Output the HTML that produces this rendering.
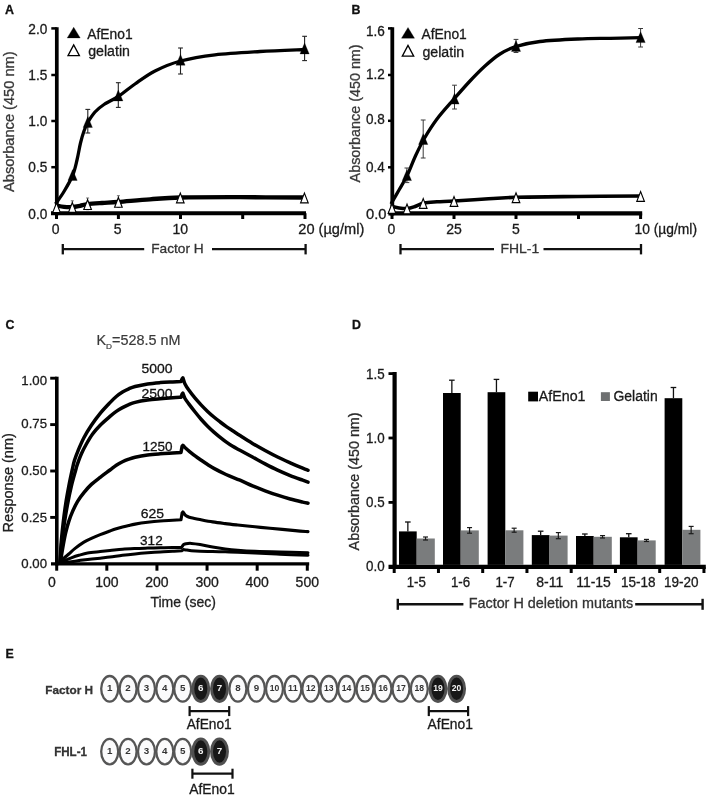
<!DOCTYPE html>
<html lang="en">
<head>
<meta charset="utf-8">
<title>AfEno1 binds Factor H and FHL-1</title>
<style>
html,body{margin:0;padding:0;background:#fff;}
body{width:708px;height:797px;overflow:hidden;}
svg{display:block;font-family:'Liberation Sans', Arial, Helvetica, sans-serif;}
</style>
</head>
<body>
<svg width="708" height="797" viewBox="0 0 708 797">
<rect x="0" y="0" width="708" height="797" fill="#ffffff"/>
<text x="5" y="13.7" font-size="12.4" text-anchor="start" fill="#111" font-weight="bold" stroke="#111" stroke-width="0.3">A</text>
<line x1="56.8" y1="27.2" x2="56.8" y2="215.3" stroke="#000" stroke-width="3.7" stroke-linecap="butt"/>
<line x1="51" y1="213.2" x2="306" y2="213.2" stroke="#000" stroke-width="4.1" stroke-linecap="butt"/>
<line x1="51.3" y1="28.4" x2="56.8" y2="28.4" stroke="#000" stroke-width="2.5" stroke-linecap="butt"/>
<line x1="51.3" y1="75" x2="56.8" y2="75" stroke="#000" stroke-width="2.5" stroke-linecap="butt"/>
<line x1="51.3" y1="121" x2="56.8" y2="121" stroke="#000" stroke-width="2.5" stroke-linecap="butt"/>
<line x1="51.3" y1="167.2" x2="56.8" y2="167.2" stroke="#000" stroke-width="2.5" stroke-linecap="butt"/>
<text x="47.3" y="33.5" font-size="14" text-anchor="end" fill="#1a1a1a" font-weight="normal" stroke="#1a1a1a" stroke-width="0.3" textLength="19" lengthAdjust="spacingAndGlyphs">2.0</text>
<text x="47.3" y="79.8" font-size="14" text-anchor="end" fill="#1a1a1a" font-weight="normal" stroke="#1a1a1a" stroke-width="0.3" textLength="19" lengthAdjust="spacingAndGlyphs">1.5</text>
<text x="47.3" y="125.8" font-size="14" text-anchor="end" fill="#1a1a1a" font-weight="normal" stroke="#1a1a1a" stroke-width="0.3" textLength="19" lengthAdjust="spacingAndGlyphs">1.0</text>
<text x="47.3" y="172" font-size="14" text-anchor="end" fill="#1a1a1a" font-weight="normal" stroke="#1a1a1a" stroke-width="0.3" textLength="19" lengthAdjust="spacingAndGlyphs">0.5</text>
<text x="47.3" y="218.6" font-size="14" text-anchor="end" fill="#1a1a1a" font-weight="normal" stroke="#1a1a1a" stroke-width="0.3" textLength="19" lengthAdjust="spacingAndGlyphs">0.0</text>
<line x1="56.5" y1="213.2" x2="56.5" y2="219" stroke="#000" stroke-width="3" stroke-linecap="butt"/>
<line x1="118.4" y1="213.2" x2="118.4" y2="219" stroke="#000" stroke-width="3" stroke-linecap="butt"/>
<line x1="180.5" y1="213.2" x2="180.5" y2="219" stroke="#000" stroke-width="3" stroke-linecap="butt"/>
<line x1="242.7" y1="213.2" x2="242.7" y2="219" stroke="#000" stroke-width="3" stroke-linecap="butt"/>
<line x1="305" y1="213.2" x2="305" y2="219" stroke="#000" stroke-width="3" stroke-linecap="butt"/>
<text x="55.6" y="233.8" font-size="14" text-anchor="middle" fill="#1a1a1a" font-weight="normal" stroke="#1a1a1a" stroke-width="0.3">0</text>
<text x="117.6" y="233.8" font-size="14" text-anchor="middle" fill="#1a1a1a" font-weight="normal" stroke="#1a1a1a" stroke-width="0.3">5</text>
<text x="180.3" y="233.8" font-size="14" text-anchor="middle" fill="#1a1a1a" font-weight="normal" stroke="#1a1a1a" stroke-width="0.3">10</text>
<text x="298.3" y="233.8" font-size="14" text-anchor="start" fill="#1a1a1a" font-weight="normal" stroke="#1a1a1a" stroke-width="0.3" textLength="66" lengthAdjust="spacingAndGlyphs">20 (µg/ml)</text>
<text x="0" y="0" font-size="14.3" text-anchor="middle" fill="#383838" font-weight="normal" stroke="#383838" stroke-width="0.3" textLength="140.6" lengthAdjust="spacingAndGlyphs" transform="translate(14.3 121.7) rotate(-90)">Absorbance (450 nm)</text>
<polygon points="73.7,27.2 67.2,37.9 80.2,37.9" fill="#000" stroke="#000" stroke-width="0.3" stroke-linejoin="miter"/>
<text x="87.3" y="38.5" font-size="14" text-anchor="start" fill="#1a1a1a" font-weight="normal" stroke="#1a1a1a" stroke-width="0.3" textLength="45.3" lengthAdjust="spacingAndGlyphs">AfEno1</text>
<polygon points="73.7,44.9 68,55.6 79.4,55.6" fill="#fff" stroke="#000" stroke-width="1.3" stroke-linejoin="miter"/>
<text x="88.2" y="56" font-size="14" text-anchor="start" fill="#1a1a1a" font-weight="normal" stroke="#1a1a1a" stroke-width="0.3" textLength="41.8" lengthAdjust="spacingAndGlyphs">gelatin</text>
<path d="M56.5 205.5 C57.75 205.72 61.37 206.55 64 206.8 C66.63 207.05 69.63 207.17 72.3 207 C74.97 206.83 77.45 206.27 80 205.8 C82.55 205.33 83.93 204.67 87.6 204.2 C91.27 203.73 96.87 203.37 102 203 C107.13 202.63 110.4 202.62 118.4 202 C126.4 201.38 139.65 200.05 150 199.3 C160.35 198.55 165.5 197.85 180.5 197.5 C195.5 197.15 219.25 197.2 240 197.2 C260.75 197.2 294.17 197.45 305 197.5" fill="none" stroke="#000" stroke-width="4.3" stroke-linejoin="round"/>
<path d="M55.5 204 C56.92 201.92 61.15 196.25 64 191.5 C66.85 186.75 70.43 180.75 72.6 175.5 C74.77 170.25 75.68 165.42 77 160 C78.32 154.58 79.33 147.83 80.5 143 C81.67 138.17 82.78 134.42 84 131 C85.22 127.58 85.97 125.67 87.8 122.5 C89.63 119.33 92.3 115 95 112 C97.7 109 100.12 107.08 104 104.5 C107.88 101.92 113.13 99.92 118.3 96.5 C123.47 93.08 128.88 88.25 135 84 C141.12 79.75 147.42 74.83 155 71 C162.58 67.17 170.5 63.7 180.5 61 C190.5 58.3 201.75 56.38 215 54.8 C228.25 53.22 245 52.38 260 51.5 C275 50.62 297.5 49.83 305 49.5" fill="none" stroke="#000" stroke-width="3.3" stroke-linejoin="round"/>
<polygon points="72.6,169.6 68,180.4 77.2,180.4" fill="#000" stroke="#000" stroke-width="0.3" stroke-linejoin="miter"/>
<line x1="87.8" y1="109.4" x2="87.8" y2="133" stroke="#222" stroke-width="1.1" stroke-linecap="butt"/>
<line x1="85.4" y1="109.4" x2="90.2" y2="109.4" stroke="#222" stroke-width="1.1" stroke-linecap="butt"/>
<line x1="85.4" y1="133" x2="90.2" y2="133" stroke="#222" stroke-width="1.1" stroke-linecap="butt"/>
<polygon points="87.8,116.6 83.2,127.4 92.4,127.4" fill="#000" stroke="#000" stroke-width="0.3" stroke-linejoin="miter"/>
<line x1="118.3" y1="82.7" x2="118.3" y2="107.4" stroke="#222" stroke-width="1.1" stroke-linecap="butt"/>
<line x1="115.9" y1="82.7" x2="120.7" y2="82.7" stroke="#222" stroke-width="1.1" stroke-linecap="butt"/>
<line x1="115.9" y1="107.4" x2="120.7" y2="107.4" stroke="#222" stroke-width="1.1" stroke-linecap="butt"/>
<polygon points="118.3,90.1 113.7,100.9 122.9,100.9" fill="#000" stroke="#000" stroke-width="0.3" stroke-linejoin="miter"/>
<line x1="180.5" y1="48" x2="180.5" y2="74" stroke="#222" stroke-width="1.1" stroke-linecap="butt"/>
<line x1="178.1" y1="48" x2="182.9" y2="48" stroke="#222" stroke-width="1.1" stroke-linecap="butt"/>
<line x1="178.1" y1="74" x2="182.9" y2="74" stroke="#222" stroke-width="1.1" stroke-linecap="butt"/>
<polygon points="180.5,54.4 175.9,65.2 185.1,65.2" fill="#000" stroke="#000" stroke-width="0.3" stroke-linejoin="miter"/>
<line x1="304.6" y1="36.3" x2="304.6" y2="60.6" stroke="#222" stroke-width="1.1" stroke-linecap="butt"/>
<line x1="302.2" y1="36.3" x2="307" y2="36.3" stroke="#222" stroke-width="1.1" stroke-linecap="butt"/>
<line x1="302.2" y1="60.6" x2="307" y2="60.6" stroke="#222" stroke-width="1.1" stroke-linecap="butt"/>
<polygon points="304.6,43.1 300,53.9 309.2,53.9" fill="#000" stroke="#000" stroke-width="0.3" stroke-linejoin="miter"/>
<polygon points="56.5,202.9 52.7,212.6 60.3,212.6" fill="#fff" stroke="#000" stroke-width="1.15" stroke-linejoin="miter"/>
<line x1="72.3" y1="200.8" x2="72.3" y2="212.5" stroke="#333" stroke-width="0.7" stroke-linecap="butt"/>
<line x1="70.8" y1="200.8" x2="73.8" y2="200.8" stroke="#333" stroke-width="0.7" stroke-linecap="butt"/>
<line x1="70.8" y1="212.5" x2="73.8" y2="212.5" stroke="#333" stroke-width="0.7" stroke-linecap="butt"/>
<polygon points="72.3,202.6 68.5,212.3 76.1,212.3" fill="#fff" stroke="#000" stroke-width="1.15" stroke-linejoin="miter"/>
<line x1="87.6" y1="198" x2="87.6" y2="209.7" stroke="#333" stroke-width="0.7" stroke-linecap="butt"/>
<line x1="86.1" y1="198" x2="89.1" y2="198" stroke="#333" stroke-width="0.7" stroke-linecap="butt"/>
<line x1="86.1" y1="209.7" x2="89.1" y2="209.7" stroke="#333" stroke-width="0.7" stroke-linecap="butt"/>
<polygon points="87.6,199.8 83.8,209.5 91.4,209.5" fill="#fff" stroke="#000" stroke-width="1.15" stroke-linejoin="miter"/>
<line x1="118.4" y1="195.7" x2="118.4" y2="207.4" stroke="#333" stroke-width="0.7" stroke-linecap="butt"/>
<line x1="116.9" y1="195.7" x2="119.9" y2="195.7" stroke="#333" stroke-width="0.7" stroke-linecap="butt"/>
<line x1="116.9" y1="207.4" x2="119.9" y2="207.4" stroke="#333" stroke-width="0.7" stroke-linecap="butt"/>
<polygon points="118.4,197.5 114.6,207.2 122.2,207.2" fill="#fff" stroke="#000" stroke-width="1.15" stroke-linejoin="miter"/>
<polygon points="180.3,193.1 176.5,202.8 184.1,202.8" fill="#fff" stroke="#000" stroke-width="1.15" stroke-linejoin="miter"/>
<polygon points="304.4,193.1 300.6,202.8 308.2,202.8" fill="#fff" stroke="#000" stroke-width="1.15" stroke-linejoin="miter"/>
<line x1="62.8" y1="244" x2="62.8" y2="254.4" stroke="#111" stroke-width="2.3" stroke-linecap="butt"/>
<line x1="305.6" y1="244" x2="305.6" y2="254.4" stroke="#111" stroke-width="2.3" stroke-linecap="butt"/>
<line x1="62.8" y1="249.2" x2="144.2" y2="249.2" stroke="#111" stroke-width="2.3" stroke-linecap="butt"/>
<line x1="212" y1="249.2" x2="305.6" y2="249.2" stroke="#111" stroke-width="2.3" stroke-linecap="butt"/>
<text x="151.2" y="253.2" font-size="13.5" text-anchor="start" fill="#333" font-weight="normal" stroke="#333" stroke-width="0.3" textLength="52.5" lengthAdjust="spacingAndGlyphs">Factor H</text>
<text x="351.5" y="13.7" font-size="12.4" text-anchor="start" fill="#111" font-weight="bold" stroke="#111" stroke-width="0.3">B</text>
<line x1="392.3" y1="27.2" x2="392.3" y2="215.5" stroke="#000" stroke-width="3.8" stroke-linecap="butt"/>
<line x1="388.4" y1="213.4" x2="642.2" y2="213.4" stroke="#000" stroke-width="4.1" stroke-linecap="butt"/>
<line x1="388" y1="28.4" x2="392.3" y2="28.4" stroke="#000" stroke-width="2.5" stroke-linecap="butt"/>
<line x1="388" y1="75" x2="392.3" y2="75" stroke="#000" stroke-width="2.5" stroke-linecap="butt"/>
<line x1="388" y1="120.8" x2="392.3" y2="120.8" stroke="#000" stroke-width="2.5" stroke-linecap="butt"/>
<line x1="388" y1="167.3" x2="392.3" y2="167.3" stroke="#000" stroke-width="2.5" stroke-linecap="butt"/>
<text x="384.8" y="35.5" font-size="14" text-anchor="end" fill="#1a1a1a" font-weight="normal" stroke="#1a1a1a" stroke-width="0.3" textLength="18.8" lengthAdjust="spacingAndGlyphs">1.6</text>
<text x="384.8" y="78.6" font-size="14" text-anchor="end" fill="#1a1a1a" font-weight="normal" stroke="#1a1a1a" stroke-width="0.3" textLength="18.8" lengthAdjust="spacingAndGlyphs">1.2</text>
<text x="384.8" y="123.7" font-size="14" text-anchor="end" fill="#1a1a1a" font-weight="normal" stroke="#1a1a1a" stroke-width="0.3" textLength="18.8" lengthAdjust="spacingAndGlyphs">0.8</text>
<text x="384.8" y="171.5" font-size="14" text-anchor="end" fill="#1a1a1a" font-weight="normal" stroke="#1a1a1a" stroke-width="0.3" textLength="18.8" lengthAdjust="spacingAndGlyphs">0.4</text>
<text x="386.5" y="218.8" font-size="14" text-anchor="end" fill="#1a1a1a" font-weight="normal" stroke="#1a1a1a" stroke-width="0.3" textLength="20.5" lengthAdjust="spacingAndGlyphs">0.0</text>
<line x1="392" y1="213.4" x2="392" y2="219" stroke="#000" stroke-width="3" stroke-linecap="butt"/>
<line x1="454" y1="213.4" x2="454" y2="219" stroke="#000" stroke-width="3" stroke-linecap="butt"/>
<line x1="516" y1="213.4" x2="516" y2="219" stroke="#000" stroke-width="3" stroke-linecap="butt"/>
<line x1="578.5" y1="213.4" x2="578.5" y2="219" stroke="#000" stroke-width="3" stroke-linecap="butt"/>
<line x1="640.6" y1="213.4" x2="640.6" y2="219" stroke="#000" stroke-width="3" stroke-linecap="butt"/>
<text x="391.5" y="233.8" font-size="14" text-anchor="middle" fill="#1a1a1a" font-weight="normal" stroke="#1a1a1a" stroke-width="0.3">0</text>
<text x="454" y="233.8" font-size="14" text-anchor="middle" fill="#1a1a1a" font-weight="normal" stroke="#1a1a1a" stroke-width="0.3">25</text>
<text x="515.8" y="233.8" font-size="14" text-anchor="middle" fill="#1a1a1a" font-weight="normal" stroke="#1a1a1a" stroke-width="0.3">5</text>
<text x="634.5" y="233.8" font-size="14" text-anchor="start" fill="#1a1a1a" font-weight="normal" stroke="#1a1a1a" stroke-width="0.3" textLength="62.5" lengthAdjust="spacingAndGlyphs">10 (µg/ml)</text>
<text x="0" y="0" font-size="14.3" text-anchor="middle" fill="#383838" font-weight="normal" stroke="#383838" stroke-width="0.3" textLength="138" lengthAdjust="spacingAndGlyphs" transform="translate(360.2 113.4) rotate(-90)">Absorbance (450 nm)</text>
<polygon points="408,27.5 401.5,38.2 414.5,38.2" fill="#000" stroke="#000" stroke-width="0.3" stroke-linejoin="miter"/>
<text x="421.5" y="39.4" font-size="14" text-anchor="start" fill="#1a1a1a" font-weight="normal" stroke="#1a1a1a" stroke-width="0.3" textLength="45.3" lengthAdjust="spacingAndGlyphs">AfEno1</text>
<polygon points="408,45.4 402.3,56.1 413.7,56.1" fill="#fff" stroke="#000" stroke-width="1.3" stroke-linejoin="miter"/>
<text x="422.4" y="56.8" font-size="14" text-anchor="start" fill="#1a1a1a" font-weight="normal" stroke="#1a1a1a" stroke-width="0.3" textLength="41.8" lengthAdjust="spacingAndGlyphs">gelatin</text>
<path d="M392 206.5 C393.17 206.75 396.43 207.67 399 208 C401.57 208.33 404.73 208.75 407.4 208.5 C410.07 208.25 412.23 207.42 415 206.5 C417.77 205.58 420.33 203.78 424 203 C427.67 202.22 432 202.13 437 201.8 C442 201.47 446 201.47 454 201 C462 200.53 474.67 199.62 485 199 C495.33 198.38 500.5 197.72 516 197.3 C531.5 196.88 557.23 196.72 578 196.5 C598.77 196.28 630.17 196.08 640.6 196" fill="none" stroke="#000" stroke-width="3.6" stroke-linejoin="round"/>
<path d="M391 204 C392.33 201.67 396.27 194.83 399 190 C401.73 185.17 404.73 180.5 407.4 175 C410.07 169.5 412.23 163 415 157 C417.77 151 420.33 145.33 424 139 C427.67 132.67 432 125.67 437 119 C442 112.33 448.5 105.33 454 99 C459.5 92.67 464.83 86.5 470 81 C475.17 75.5 480 70.5 485 66 C490 61.5 494.83 57.25 500 54 C505.17 50.75 509.33 48.58 516 46.5 C522.67 44.42 529.67 42.75 540 41.5 C550.33 40.25 566.33 39.53 578 39 C589.67 38.47 599.57 38.52 610 38.3 C620.43 38.08 635.5 37.8 640.6 37.7" fill="none" stroke="#000" stroke-width="3.3" stroke-linejoin="round"/>
<line x1="406.9" y1="168" x2="406.9" y2="182.6" stroke="#3a3a3a" stroke-width="1" stroke-linecap="butt"/>
<line x1="404.5" y1="168" x2="409.3" y2="168" stroke="#3a3a3a" stroke-width="1" stroke-linecap="butt"/>
<line x1="404.5" y1="182.6" x2="409.3" y2="182.6" stroke="#3a3a3a" stroke-width="1" stroke-linecap="butt"/>
<polygon points="406.9,169.8 402.3,180.6 411.5,180.6" fill="#000" stroke="#000" stroke-width="0.3" stroke-linejoin="miter"/>
<line x1="423.2" y1="120" x2="423.2" y2="158" stroke="#3a3a3a" stroke-width="1" stroke-linecap="butt"/>
<line x1="420.8" y1="120" x2="425.6" y2="120" stroke="#3a3a3a" stroke-width="1" stroke-linecap="butt"/>
<line x1="420.8" y1="158" x2="425.6" y2="158" stroke="#3a3a3a" stroke-width="1" stroke-linecap="butt"/>
<polygon points="423.2,133.7 418.6,144.5 427.8,144.5" fill="#000" stroke="#000" stroke-width="0.3" stroke-linejoin="miter"/>
<line x1="454.5" y1="85.2" x2="454.5" y2="109" stroke="#3a3a3a" stroke-width="1" stroke-linecap="butt"/>
<line x1="452.1" y1="85.2" x2="456.9" y2="85.2" stroke="#3a3a3a" stroke-width="1" stroke-linecap="butt"/>
<line x1="452.1" y1="109" x2="456.9" y2="109" stroke="#3a3a3a" stroke-width="1" stroke-linecap="butt"/>
<polygon points="454.5,93.3 449.9,104.1 459.1,104.1" fill="#000" stroke="#000" stroke-width="0.3" stroke-linejoin="miter"/>
<line x1="516" y1="39.4" x2="516" y2="52.5" stroke="#3a3a3a" stroke-width="1" stroke-linecap="butt"/>
<line x1="513.6" y1="39.4" x2="518.4" y2="39.4" stroke="#3a3a3a" stroke-width="1" stroke-linecap="butt"/>
<line x1="513.6" y1="52.5" x2="518.4" y2="52.5" stroke="#3a3a3a" stroke-width="1" stroke-linecap="butt"/>
<polygon points="516,40.6 511.4,51.4 520.6,51.4" fill="#000" stroke="#000" stroke-width="0.3" stroke-linejoin="miter"/>
<line x1="640.6" y1="28.5" x2="640.6" y2="47" stroke="#3a3a3a" stroke-width="1" stroke-linecap="butt"/>
<line x1="638.2" y1="28.5" x2="643" y2="28.5" stroke="#3a3a3a" stroke-width="1" stroke-linecap="butt"/>
<line x1="638.2" y1="47" x2="643" y2="47" stroke="#3a3a3a" stroke-width="1" stroke-linecap="butt"/>
<polygon points="640.6,31.8 636,42.6 645.2,42.6" fill="#000" stroke="#000" stroke-width="0.3" stroke-linejoin="miter"/>
<polygon points="392,203.6 388.2,213.3 395.8,213.3" fill="#fff" stroke="#000" stroke-width="1.15" stroke-linejoin="miter"/>
<polygon points="407,204.1 403.2,213.8 410.8,213.8" fill="#fff" stroke="#000" stroke-width="1.15" stroke-linejoin="miter"/>
<polygon points="423.2,198.6 419.4,208.3 427,208.3" fill="#fff" stroke="#000" stroke-width="1.15" stroke-linejoin="miter"/>
<polygon points="454,196.6 450.2,206.3 457.8,206.3" fill="#fff" stroke="#000" stroke-width="1.15" stroke-linejoin="miter"/>
<polygon points="516,192.9 512.2,202.6 519.8,202.6" fill="#fff" stroke="#000" stroke-width="1.15" stroke-linejoin="miter"/>
<polygon points="640.6,191.6 636.8,201.3 644.4,201.3" fill="#fff" stroke="#000" stroke-width="1.15" stroke-linejoin="miter"/>
<line x1="400.5" y1="244" x2="400.5" y2="254.4" stroke="#111" stroke-width="2.3" stroke-linecap="butt"/>
<line x1="641" y1="244" x2="641" y2="254.4" stroke="#111" stroke-width="2.3" stroke-linecap="butt"/>
<line x1="400.5" y1="249.2" x2="494" y2="249.2" stroke="#111" stroke-width="2.3" stroke-linecap="butt"/>
<line x1="543.5" y1="249.2" x2="641" y2="249.2" stroke="#111" stroke-width="2.3" stroke-linecap="butt"/>
<text x="500.6" y="253.2" font-size="13.5" text-anchor="start" fill="#333" font-weight="normal" stroke="#333" stroke-width="0.3" textLength="38.6" lengthAdjust="spacingAndGlyphs">FHL-1</text>
<text x="5.5" y="329.3" font-size="12.4" text-anchor="start" fill="#111" font-weight="bold" stroke="#111" stroke-width="0.3">C</text>
<line x1="56.8" y1="376.7" x2="56.8" y2="565.4" stroke="#000" stroke-width="3.6" stroke-linecap="butt"/>
<line x1="51" y1="563.8" x2="309.2" y2="563.8" stroke="#000" stroke-width="3.3" stroke-linecap="butt"/>
<line x1="50.2" y1="378.2" x2="56.8" y2="378.2" stroke="#000" stroke-width="2.9" stroke-linecap="butt"/>
<line x1="50.2" y1="424.6" x2="56.8" y2="424.6" stroke="#000" stroke-width="2.9" stroke-linecap="butt"/>
<line x1="50.2" y1="471" x2="56.8" y2="471" stroke="#000" stroke-width="2.9" stroke-linecap="butt"/>
<line x1="50.2" y1="517.4" x2="56.8" y2="517.4" stroke="#000" stroke-width="2.9" stroke-linecap="butt"/>
<text x="47" y="385" font-size="13.6" text-anchor="end" fill="#1a1a1a" font-weight="normal" stroke="#1a1a1a" stroke-width="0.3" textLength="25.7" lengthAdjust="spacingAndGlyphs">1.00</text>
<text x="47" y="427.8" font-size="13.6" text-anchor="end" fill="#1a1a1a" font-weight="normal" stroke="#1a1a1a" stroke-width="0.3" textLength="25.7" lengthAdjust="spacingAndGlyphs">0.75</text>
<text x="47" y="474.6" font-size="13.6" text-anchor="end" fill="#1a1a1a" font-weight="normal" stroke="#1a1a1a" stroke-width="0.3" textLength="25.7" lengthAdjust="spacingAndGlyphs">0.50</text>
<text x="47" y="522" font-size="13.6" text-anchor="end" fill="#1a1a1a" font-weight="normal" stroke="#1a1a1a" stroke-width="0.3" textLength="25.7" lengthAdjust="spacingAndGlyphs">0.25</text>
<text x="47" y="567.5" font-size="13.6" text-anchor="end" fill="#1a1a1a" font-weight="normal" stroke="#1a1a1a" stroke-width="0.3" textLength="25.7" lengthAdjust="spacingAndGlyphs">0.00</text>
<line x1="56.7" y1="563.8" x2="56.7" y2="570.7" stroke="#000" stroke-width="3" stroke-linecap="butt"/>
<line x1="106.82" y1="563.8" x2="106.82" y2="570.7" stroke="#000" stroke-width="3" stroke-linecap="butt"/>
<line x1="156.94" y1="563.8" x2="156.94" y2="570.7" stroke="#000" stroke-width="3" stroke-linecap="butt"/>
<line x1="207.06" y1="563.8" x2="207.06" y2="570.7" stroke="#000" stroke-width="3" stroke-linecap="butt"/>
<line x1="257.18" y1="563.8" x2="257.18" y2="570.7" stroke="#000" stroke-width="3" stroke-linecap="butt"/>
<line x1="307.3" y1="563.8" x2="307.3" y2="570.7" stroke="#000" stroke-width="3" stroke-linecap="butt"/>
<text x="51.9" y="586.5" font-size="14" text-anchor="middle" fill="#1a1a1a" font-weight="normal" stroke="#1a1a1a" stroke-width="0.3">0</text>
<text x="106.82" y="586.5" font-size="14" text-anchor="middle" fill="#1a1a1a" font-weight="normal" stroke="#1a1a1a" stroke-width="0.3">100</text>
<text x="156.94" y="586.5" font-size="14" text-anchor="middle" fill="#1a1a1a" font-weight="normal" stroke="#1a1a1a" stroke-width="0.3">200</text>
<text x="207.06" y="586.5" font-size="14" text-anchor="middle" fill="#1a1a1a" font-weight="normal" stroke="#1a1a1a" stroke-width="0.3">300</text>
<text x="257.18" y="586.5" font-size="14" text-anchor="middle" fill="#1a1a1a" font-weight="normal" stroke="#1a1a1a" stroke-width="0.3">400</text>
<text x="307.3" y="586.5" font-size="14" text-anchor="middle" fill="#1a1a1a" font-weight="normal" stroke="#1a1a1a" stroke-width="0.3">500</text>
<text x="150.4" y="607.4" font-size="14.3" text-anchor="start" fill="#222" font-weight="normal" stroke="#222" stroke-width="0.3" textLength="65.6" lengthAdjust="spacingAndGlyphs">Time (sec)</text>
<text x="0" y="0" font-size="14.3" text-anchor="middle" fill="#222" font-weight="normal" stroke="#222" stroke-width="0.3" textLength="99.3" lengthAdjust="spacingAndGlyphs" transform="translate(13.3 482.8) rotate(-90)">Response (nm)</text>
<text x="96.5" y="344.8" font-size="14" fill="#3a3a3a" stroke="#3a3a3a" stroke-width="0.2" textLength="84" lengthAdjust="spacingAndGlyphs">K<tspan font-size="8" dy="4.6">D</tspan><tspan dy="-4.6">=528.5 nM</tspan></text>
<text x="141.5" y="373" font-size="13.5" text-anchor="start" fill="#111" font-weight="normal" stroke="#111" stroke-width="0.3" textLength="31" lengthAdjust="spacingAndGlyphs">5000</text>
<text x="141.4" y="398.4" font-size="13.5" text-anchor="start" fill="#111" font-weight="normal" stroke="#111" stroke-width="0.3" textLength="31.2" lengthAdjust="spacingAndGlyphs">2500</text>
<text x="142.6" y="451" font-size="13.5" text-anchor="start" fill="#111" font-weight="normal" stroke="#111" stroke-width="0.3" textLength="30" lengthAdjust="spacingAndGlyphs">1250</text>
<text x="140.75" y="518" font-size="13.5" text-anchor="start" fill="#111" font-weight="normal" stroke="#111" stroke-width="0.3" textLength="23.3" lengthAdjust="spacingAndGlyphs">625</text>
<text x="140.1" y="544.7" font-size="13.5" text-anchor="start" fill="#111" font-weight="normal" stroke="#111" stroke-width="0.3" textLength="22.6" lengthAdjust="spacingAndGlyphs">312</text>
<path d="M60 562 C60.1 560.33 60.37 555.63 60.6 552 C60.83 548.37 60.97 545.08 61.4 540.2 C61.83 535.32 62.48 528.75 63.2 522.7 C63.92 516.65 64.77 509.97 65.7 503.9 C66.63 497.83 67.72 491.95 68.8 486.3 C69.88 480.65 71.25 474.33 72.2 470 C73.15 465.67 73.5 463.58 74.5 460.3 C75.5 457.02 76.63 454.07 78.2 450.3 C79.77 446.53 81.7 441.88 83.9 437.7 C86.1 433.52 88.68 429.27 91.4 425.2 C94.12 421.13 97.1 417.07 100.2 413.3 C103.3 409.53 107.32 405.4 110 402.6 C112.68 399.8 114.22 398.27 116.3 396.5 C118.38 394.73 120.42 393.28 122.5 392 C124.58 390.72 126.7 389.72 128.8 388.8 C130.9 387.88 131.97 387.32 135.1 386.5 C138.23 385.68 143.42 384.55 147.6 383.9 C151.78 383.25 156.02 382.93 160.2 382.6 C164.38 382.27 169.23 382.08 172.7 381.9 C176.17 381.72 179.62 381.57 181 381.5 L182.1 378.8 L182.9 377.8 C183.33 378.83 184.03 381.95 185 384 C185.97 386.05 187.12 387.73 188.8 390.1 C190.48 392.47 193.02 395.7 195.1 398.2 C197.18 400.7 199.22 402.9 201.3 405.1 C203.38 407.3 205.5 409.42 207.6 411.4 C209.7 413.38 211.8 415.23 213.9 417 C216 418.77 218.12 420.4 220.2 422 C222.28 423.6 224.32 425.13 226.4 426.6 C228.48 428.07 230.43 429.3 232.7 430.8 C234.97 432.3 236.7 433.5 240 435.6 C243.3 437.7 248.32 440.92 252.5 443.4 C256.68 445.88 260.92 448.23 265.1 450.5 C269.28 452.77 273.42 454.95 277.6 457 C281.78 459.05 286.02 460.93 290.2 462.8 C294.38 464.67 299.73 466.95 302.7 468.2 C305.67 469.45 307.12 469.95 308 470.3" fill="none" stroke="#000" stroke-width="3.5" stroke-linejoin="round" stroke-linecap="round"/>
<path d="M60.2 562 C60.33 560.33 60.7 555.63 61 552 C61.3 548.37 61.43 545.08 62 540.2 C62.57 535.32 63.47 528.75 64.4 522.7 C65.33 516.65 66.45 509.97 67.6 503.9 C68.75 497.83 69.95 491.95 71.3 486.3 C72.65 480.65 74.75 473.5 75.7 470 C76.65 466.5 76.07 467.97 77 465.3 C77.93 462.63 79.73 457.55 81.3 454 C82.87 450.45 84.52 447.33 86.4 444 C88.28 440.67 90.3 437.13 92.6 434 C94.9 430.87 97.3 428.13 100.2 425.2 C103.1 422.27 107.32 418.7 110 416.4 C112.68 414.1 114.22 412.87 116.3 411.4 C118.38 409.93 120.42 408.73 122.5 407.6 C124.58 406.47 126.7 405.47 128.8 404.6 C130.9 403.73 131.97 403.15 135.1 402.4 C138.23 401.65 143.42 400.7 147.6 400.1 C151.78 399.5 156.02 399.18 160.2 398.8 C164.38 398.42 169.23 398.05 172.7 397.8 C176.17 397.55 179.62 397.38 181 397.3 L182.1 394.2 L182.9 393.2 C183.33 394.08 184.03 396.72 185 398.5 C185.97 400.28 187.12 401.65 188.8 403.9 C190.48 406.15 193.02 409.4 195.1 412 C197.18 414.6 199.22 417.13 201.3 419.5 C203.38 421.87 205.5 424.1 207.6 426.2 C209.7 428.3 211.8 430.25 213.9 432.1 C216 433.95 218.12 435.63 220.2 437.3 C222.28 438.97 224.32 440.6 226.4 442.1 C228.48 443.6 230.43 444.93 232.7 446.3 C234.97 447.67 236.7 448.52 240 450.3 C243.3 452.08 248.32 454.73 252.5 457 C256.68 459.27 260.92 461.7 265.1 463.9 C269.28 466.1 273.42 468.25 277.6 470.2 C281.78 472.15 286.02 473.93 290.2 475.6 C294.38 477.27 299.73 479.12 302.7 480.2 C305.67 481.28 307.12 481.78 308 482.1" fill="none" stroke="#000" stroke-width="3.5" stroke-linejoin="round" stroke-linecap="round"/>
<path d="M60.3 562.5 C60.47 561.5 60.82 559.38 61.3 556.5 C61.78 553.62 62.47 549.17 63.2 545.2 C63.93 541.23 64.77 536.67 65.7 532.7 C66.63 528.73 67.65 524.95 68.8 521.4 C69.95 517.85 71.13 514.75 72.6 511.4 C74.07 508.05 75.72 504.43 77.6 501.3 C79.48 498.17 81.6 495.42 83.9 492.6 C86.2 489.78 88.68 486.95 91.4 484.4 C94.12 481.85 97.1 479.7 100.2 477.3 C103.3 474.9 107.32 472.02 110 470 C112.68 467.98 114.22 466.58 116.3 465.2 C118.38 463.82 120.42 462.72 122.5 461.7 C124.58 460.68 126.7 459.85 128.8 459.1 C130.9 458.35 131.97 457.88 135.1 457.2 C138.23 456.52 143.42 455.57 147.6 455 C151.78 454.43 156.02 454.13 160.2 453.8 C164.38 453.47 169.23 453.22 172.7 453 C176.17 452.78 179.62 452.58 181 452.5 L182.1 446.4 L182.9 445.4 C183.5 445.92 185.03 447.58 186 448.5 C186.97 449.42 187.28 449.67 188.8 450.9 C190.32 452.13 193.02 454.33 195.1 455.9 C197.18 457.47 199.22 458.87 201.3 460.3 C203.38 461.73 205.5 463.15 207.6 464.5 C209.7 465.85 210.83 466.73 213.9 468.4 C216.97 470.07 221.65 472.53 226 474.5 C230.35 476.47 235.58 478.32 240 480.2 C244.42 482.08 248.32 484.03 252.5 485.8 C256.68 487.57 260.92 489.23 265.1 490.8 C269.28 492.37 273.42 493.83 277.6 495.2 C281.78 496.57 286.02 497.85 290.2 499 C294.38 500.15 299.73 501.4 302.7 502.1 C305.67 502.8 307.12 503.02 308 503.2" fill="none" stroke="#000" stroke-width="3.5" stroke-linejoin="round" stroke-linecap="round"/>
<path d="M60.5 562.5 C61.05 561.82 62.42 559.82 63.8 558.4 C65.18 556.98 66.92 555.67 68.8 554 C70.68 552.33 72.58 550.38 75.1 548.4 C77.62 546.42 81.18 543.78 83.9 542.1 C86.62 540.42 88.68 539.55 91.4 538.3 C94.12 537.05 97.1 535.82 100.2 534.6 C103.3 533.38 107.32 531.97 110 531 C112.68 530.03 114.22 529.47 116.3 528.8 C118.38 528.13 120.42 527.57 122.5 527 C124.58 526.43 126.7 525.88 128.8 525.4 C130.9 524.92 131.97 524.62 135.1 524.1 C138.23 523.58 143.42 522.82 147.6 522.3 C151.78 521.78 156.02 521.33 160.2 521 C164.38 520.67 169.23 520.5 172.7 520.3 C176.17 520.1 179.62 519.88 181 519.8 L182.1 512.9 L182.9 511.9 C183.33 512.38 184.25 514.03 185 514.8 C185.75 515.57 186.45 516 187.5 516.5 C188.55 517 189.2 517.28 191.3 517.8 C193.4 518.32 196.55 518.92 200.1 519.6 C203.65 520.28 208.42 521.23 212.6 521.9 C216.78 522.57 221.02 523.08 225.2 523.6 C229.38 524.12 232.73 524.47 237.7 525 C242.67 525.53 249.62 526.27 255 526.8 C260.38 527.33 263.3 527.57 270 528.2 C276.7 528.83 288.87 530.03 295.2 530.6 C301.53 531.17 305.87 531.43 308 531.6" fill="none" stroke="#000" stroke-width="3.1" stroke-linejoin="round" stroke-linecap="round"/>
<path d="M60.5 563 C61.25 562.55 63.2 561.17 65 560.3 C66.8 559.43 69 558.63 71.3 557.8 C73.6 556.97 76.08 556.1 78.8 555.3 C81.52 554.5 84.03 553.62 87.6 553 C91.17 552.38 96.47 552 100.2 551.6 C103.93 551.2 106.28 551 110 550.6 C113.72 550.2 118.32 549.55 122.5 549.2 C126.68 548.85 130.92 548.68 135.1 548.5 C139.28 548.32 143.42 548.22 147.6 548.1 C151.78 547.98 156.02 547.9 160.2 547.8 C164.38 547.7 169.13 547.57 172.7 547.5 C176.27 547.43 180.12 547.42 181.6 547.4 L183.4 544.6 C183.83 544.45 184.68 543.9 186 543.7 C187.32 543.5 188.95 543.27 191.3 543.4 C193.65 543.53 196.55 543.9 200.1 544.5 C203.65 545.1 208.42 546.27 212.6 547 C216.78 547.73 221.02 548.37 225.2 548.9 C229.38 549.43 232.73 549.8 237.7 550.2 C242.67 550.6 247.95 550.98 255 551.3 C262.05 551.62 271.17 551.87 280 552.1 C288.83 552.33 303.33 552.6 308 552.7" fill="none" stroke="#000" stroke-width="3" stroke-linejoin="round" stroke-linecap="round"/>
<path d="M61 563.3 C63.33 562.95 70.57 561.82 75 561.2 C79.43 560.58 83.4 560.1 87.6 559.6 C91.8 559.1 96.47 558.62 100.2 558.2 C103.93 557.78 106.28 557.58 110 557.1 C113.72 556.62 118.32 555.83 122.5 555.3 C126.68 554.77 130.92 554.32 135.1 553.9 C139.28 553.48 143.42 553.13 147.6 552.8 C151.78 552.47 156.02 552.15 160.2 551.9 C164.38 551.65 169.1 551.48 172.7 551.3 C176.3 551.12 180.28 550.88 181.8 550.8 L183.6 549.6 C184.17 549.67 185.72 549.82 187 550 C188.28 550.18 189.12 550.48 191.3 550.7 C193.48 550.92 196.55 551.17 200.1 551.3 C203.65 551.43 208.42 551.42 212.6 551.5 C216.78 551.58 221.02 551.67 225.2 551.8 C229.38 551.93 232.73 552.1 237.7 552.3 C242.67 552.5 247.95 552.68 255 553 C262.05 553.32 271.17 553.82 280 554.2 C288.83 554.58 303.33 555.12 308 555.3" fill="none" stroke="#000" stroke-width="3" stroke-linejoin="round" stroke-linecap="round"/>
<text x="352" y="329.3" font-size="12.4" text-anchor="start" fill="#111" font-weight="bold" stroke="#111" stroke-width="0.3">D</text>
<line x1="394.6" y1="372" x2="394.6" y2="569" stroke="#000" stroke-width="4.2" stroke-linecap="butt"/>
<line x1="388.5" y1="566.9" x2="705.8" y2="566.9" stroke="#000" stroke-width="4.2" stroke-linecap="butt"/>
<line x1="388.5" y1="373.6" x2="394.6" y2="373.6" stroke="#000" stroke-width="2.8" stroke-linecap="butt"/>
<line x1="388.5" y1="438" x2="394.6" y2="438" stroke="#000" stroke-width="2.8" stroke-linecap="butt"/>
<line x1="388.5" y1="502.4" x2="394.6" y2="502.4" stroke="#000" stroke-width="2.8" stroke-linecap="butt"/>
<text x="384.6" y="378.5" font-size="14" text-anchor="end" fill="#1a1a1a" font-weight="normal" stroke="#1a1a1a" stroke-width="0.3" textLength="18.6" lengthAdjust="spacingAndGlyphs">1.5</text>
<text x="384.6" y="442.9" font-size="14" text-anchor="end" fill="#1a1a1a" font-weight="normal" stroke="#1a1a1a" stroke-width="0.3" textLength="18.6" lengthAdjust="spacingAndGlyphs">1.0</text>
<text x="384.6" y="507.3" font-size="14" text-anchor="end" fill="#1a1a1a" font-weight="normal" stroke="#1a1a1a" stroke-width="0.3" textLength="18.6" lengthAdjust="spacingAndGlyphs">0.5</text>
<text x="384.6" y="571.2" font-size="14" text-anchor="end" fill="#1a1a1a" font-weight="normal" stroke="#1a1a1a" stroke-width="0.3" textLength="18.6" lengthAdjust="spacingAndGlyphs">0.0</text>
<line x1="394.2" y1="566.9" x2="394.2" y2="573" stroke="#000" stroke-width="3" stroke-linecap="butt"/>
<line x1="438.45" y1="566.9" x2="438.45" y2="573" stroke="#000" stroke-width="3" stroke-linecap="butt"/>
<line x1="482.7" y1="566.9" x2="482.7" y2="573" stroke="#000" stroke-width="3" stroke-linecap="butt"/>
<line x1="526.95" y1="566.9" x2="526.95" y2="573" stroke="#000" stroke-width="3" stroke-linecap="butt"/>
<line x1="571.2" y1="566.9" x2="571.2" y2="573" stroke="#000" stroke-width="3" stroke-linecap="butt"/>
<line x1="615.45" y1="566.9" x2="615.45" y2="573" stroke="#000" stroke-width="3" stroke-linecap="butt"/>
<line x1="659.7" y1="566.9" x2="659.7" y2="573" stroke="#000" stroke-width="3" stroke-linecap="butt"/>
<line x1="703.95" y1="566.9" x2="703.95" y2="573" stroke="#000" stroke-width="3" stroke-linecap="butt"/>
<text x="0" y="0" font-size="14.3" text-anchor="middle" fill="#2a2a2a" font-weight="normal" stroke="#2a2a2a" stroke-width="0.3" textLength="138" lengthAdjust="spacingAndGlyphs" transform="translate(358.9 481.4) rotate(-90)">Absorbance (450 nm)</text>
<rect x="399" y="531.4" width="17.7" height="33.5" fill="#000"/>
<rect x="416.7" y="538.5" width="18.1" height="26.4" fill="#7a7c7d"/>
<line x1="407.85" y1="522" x2="407.85" y2="531.4" stroke="#111" stroke-width="1.3" stroke-linecap="butt"/>
<line x1="405.05" y1="522" x2="410.65" y2="522" stroke="#111" stroke-width="1.3" stroke-linecap="butt"/>
<line x1="425.55" y1="537" x2="425.55" y2="540" stroke="#1a1a1a" stroke-width="1.2" stroke-linecap="butt"/>
<line x1="423.05" y1="537" x2="428.05" y2="537" stroke="#1a1a1a" stroke-width="1.2" stroke-linecap="butt"/>
<line x1="423.05" y1="540" x2="428.05" y2="540" stroke="#1a1a1a" stroke-width="1.2" stroke-linecap="butt"/>
<rect x="443" y="393" width="17.7" height="171.9" fill="#000"/>
<rect x="460.7" y="530.4" width="18.1" height="34.5" fill="#7a7c7d"/>
<line x1="451.85" y1="380.2" x2="451.85" y2="393" stroke="#111" stroke-width="1.3" stroke-linecap="butt"/>
<line x1="449.05" y1="380.2" x2="454.65" y2="380.2" stroke="#111" stroke-width="1.3" stroke-linecap="butt"/>
<line x1="469.55" y1="527.6" x2="469.55" y2="533.2" stroke="#1a1a1a" stroke-width="1.2" stroke-linecap="butt"/>
<line x1="467.05" y1="527.6" x2="472.05" y2="527.6" stroke="#1a1a1a" stroke-width="1.2" stroke-linecap="butt"/>
<line x1="467.05" y1="533.2" x2="472.05" y2="533.2" stroke="#1a1a1a" stroke-width="1.2" stroke-linecap="butt"/>
<rect x="487.6" y="392.2" width="17.7" height="172.7" fill="#000"/>
<rect x="505.3" y="530.3" width="18.1" height="34.6" fill="#7a7c7d"/>
<line x1="496.45" y1="379.4" x2="496.45" y2="392.2" stroke="#111" stroke-width="1.3" stroke-linecap="butt"/>
<line x1="493.65" y1="379.4" x2="499.25" y2="379.4" stroke="#111" stroke-width="1.3" stroke-linecap="butt"/>
<line x1="514.15" y1="528.2" x2="514.15" y2="532.2" stroke="#1a1a1a" stroke-width="1.2" stroke-linecap="butt"/>
<line x1="511.65" y1="528.2" x2="516.65" y2="528.2" stroke="#1a1a1a" stroke-width="1.2" stroke-linecap="butt"/>
<line x1="511.65" y1="532.2" x2="516.65" y2="532.2" stroke="#1a1a1a" stroke-width="1.2" stroke-linecap="butt"/>
<rect x="531.8" y="535.1" width="17.7" height="29.8" fill="#000"/>
<rect x="549.5" y="535.6" width="18.1" height="29.3" fill="#7a7c7d"/>
<line x1="540.65" y1="531.2" x2="540.65" y2="535.1" stroke="#111" stroke-width="1.3" stroke-linecap="butt"/>
<line x1="537.85" y1="531.2" x2="543.45" y2="531.2" stroke="#111" stroke-width="1.3" stroke-linecap="butt"/>
<line x1="558.35" y1="532.6" x2="558.35" y2="538.7" stroke="#1a1a1a" stroke-width="1.2" stroke-linecap="butt"/>
<line x1="555.85" y1="532.6" x2="560.85" y2="532.6" stroke="#1a1a1a" stroke-width="1.2" stroke-linecap="butt"/>
<line x1="555.85" y1="538.7" x2="560.85" y2="538.7" stroke="#1a1a1a" stroke-width="1.2" stroke-linecap="butt"/>
<rect x="576" y="536" width="17.7" height="28.9" fill="#000"/>
<rect x="593.7" y="536.8" width="18.1" height="28.1" fill="#7a7c7d"/>
<line x1="584.85" y1="534" x2="584.85" y2="536" stroke="#111" stroke-width="1.3" stroke-linecap="butt"/>
<line x1="582.05" y1="534" x2="587.65" y2="534" stroke="#111" stroke-width="1.3" stroke-linecap="butt"/>
<line x1="602.55" y1="535.6" x2="602.55" y2="538" stroke="#1a1a1a" stroke-width="1.2" stroke-linecap="butt"/>
<line x1="600.05" y1="535.6" x2="605.05" y2="535.6" stroke="#1a1a1a" stroke-width="1.2" stroke-linecap="butt"/>
<line x1="600.05" y1="538" x2="605.05" y2="538" stroke="#1a1a1a" stroke-width="1.2" stroke-linecap="butt"/>
<rect x="619.9" y="537.3" width="17.7" height="27.6" fill="#000"/>
<rect x="637.6" y="540.4" width="18.1" height="24.5" fill="#7a7c7d"/>
<line x1="628.75" y1="533.7" x2="628.75" y2="537.3" stroke="#111" stroke-width="1.3" stroke-linecap="butt"/>
<line x1="625.95" y1="533.7" x2="631.55" y2="533.7" stroke="#111" stroke-width="1.3" stroke-linecap="butt"/>
<line x1="646.45" y1="539.4" x2="646.45" y2="541.5" stroke="#1a1a1a" stroke-width="1.2" stroke-linecap="butt"/>
<line x1="643.95" y1="539.4" x2="648.95" y2="539.4" stroke="#1a1a1a" stroke-width="1.2" stroke-linecap="butt"/>
<line x1="643.95" y1="541.5" x2="648.95" y2="541.5" stroke="#1a1a1a" stroke-width="1.2" stroke-linecap="butt"/>
<rect x="664.6" y="398.2" width="17.7" height="166.7" fill="#000"/>
<rect x="682.3" y="529.8" width="18.1" height="35.1" fill="#7a7c7d"/>
<line x1="673.45" y1="387.5" x2="673.45" y2="398.2" stroke="#111" stroke-width="1.3" stroke-linecap="butt"/>
<line x1="670.65" y1="387.5" x2="676.25" y2="387.5" stroke="#111" stroke-width="1.3" stroke-linecap="butt"/>
<line x1="691.15" y1="526.4" x2="691.15" y2="533.7" stroke="#1a1a1a" stroke-width="1.2" stroke-linecap="butt"/>
<line x1="688.65" y1="526.4" x2="693.65" y2="526.4" stroke="#1a1a1a" stroke-width="1.2" stroke-linecap="butt"/>
<line x1="688.65" y1="533.7" x2="693.65" y2="533.7" stroke="#1a1a1a" stroke-width="1.2" stroke-linecap="butt"/>
<text x="416.3" y="586.7" font-size="14" text-anchor="middle" fill="#1a1a1a" font-weight="normal" stroke="#1a1a1a" stroke-width="0.3" textLength="19.2" lengthAdjust="spacingAndGlyphs">1-5</text>
<text x="460.5" y="586.7" font-size="14" text-anchor="middle" fill="#1a1a1a" font-weight="normal" stroke="#1a1a1a" stroke-width="0.3" textLength="19.2" lengthAdjust="spacingAndGlyphs">1-6</text>
<text x="505" y="586.7" font-size="14" text-anchor="middle" fill="#1a1a1a" font-weight="normal" stroke="#1a1a1a" stroke-width="0.3" textLength="19.2" lengthAdjust="spacingAndGlyphs">1-7</text>
<text x="549.7" y="586.7" font-size="14" text-anchor="middle" fill="#1a1a1a" font-weight="normal" stroke="#1a1a1a" stroke-width="0.3" textLength="27" lengthAdjust="spacingAndGlyphs">8-11</text>
<text x="593.5" y="586.7" font-size="14" text-anchor="middle" fill="#1a1a1a" font-weight="normal" stroke="#1a1a1a" stroke-width="0.3" textLength="34.6" lengthAdjust="spacingAndGlyphs">11-15</text>
<text x="638.3" y="586.7" font-size="14" text-anchor="middle" fill="#1a1a1a" font-weight="normal" stroke="#1a1a1a" stroke-width="0.3" textLength="34.6" lengthAdjust="spacingAndGlyphs">15-18</text>
<text x="681.3" y="586.7" font-size="14" text-anchor="middle" fill="#1a1a1a" font-weight="normal" stroke="#1a1a1a" stroke-width="0.3" textLength="34.6" lengthAdjust="spacingAndGlyphs">19-20</text>
<rect x="528.2" y="391.7" width="9.8" height="9.7" fill="#000"/>
<text x="538.8" y="400.9" font-size="14.7" text-anchor="start" fill="#1a1a1a" font-weight="normal" stroke="#1a1a1a" stroke-width="0.3" textLength="46.7" lengthAdjust="spacingAndGlyphs">AfEno1</text>
<rect x="600.9" y="392.2" width="9" height="8.8" fill="#6e7071"/>
<text x="613.5" y="400.9" font-size="14.7" text-anchor="start" fill="#1a1a1a" font-weight="normal" stroke="#1a1a1a" stroke-width="0.3" textLength="44.2" lengthAdjust="spacingAndGlyphs">Gelatin</text>
<line x1="397.8" y1="598.8" x2="397.8" y2="609.8" stroke="#111" stroke-width="2.4" stroke-linecap="butt"/>
<line x1="702.6" y1="598.8" x2="702.6" y2="609.8" stroke="#111" stroke-width="2.4" stroke-linecap="butt"/>
<line x1="397.8" y1="604.3" x2="463.4" y2="604.3" stroke="#111" stroke-width="2.4" stroke-linecap="butt"/>
<line x1="635.2" y1="604.3" x2="702.6" y2="604.3" stroke="#111" stroke-width="2.4" stroke-linecap="butt"/>
<text x="468.7" y="607.9" font-size="14.3" text-anchor="start" fill="#333" font-weight="normal" stroke="#333" stroke-width="0.3" textLength="164.5" lengthAdjust="spacingAndGlyphs">Factor H deletion mutants</text>
<text x="5.5" y="657.8" font-size="12.4" text-anchor="start" fill="#111" font-weight="bold" stroke="#111" stroke-width="0.3">E</text>
<text x="45.3" y="693.9" font-size="11.8" text-anchor="start" fill="#333" font-weight="bold" stroke="#333" stroke-width="0.3" textLength="47.7" lengthAdjust="spacingAndGlyphs">Factor H</text>
<text x="54.2" y="755.7" font-size="12" text-anchor="start" fill="#333" font-weight="bold" stroke="#333" stroke-width="0.3" textLength="32.8" lengthAdjust="spacingAndGlyphs">FHL-1</text>
<ellipse cx="109.7" cy="688.8" rx="8.5" ry="12.8" fill="#fbfbfc" stroke="#555" stroke-width="2.3"/>
<text x="109.7" y="691.3" font-size="9.8" text-anchor="middle" fill="#333" font-weight="bold">1</text>
<ellipse cx="128.1" cy="688.8" rx="8.5" ry="12.8" fill="#fbfbfc" stroke="#555" stroke-width="2.3"/>
<text x="128.1" y="691.3" font-size="9.8" text-anchor="middle" fill="#333" font-weight="bold">2</text>
<ellipse cx="146.5" cy="688.8" rx="8.5" ry="12.8" fill="#fbfbfc" stroke="#555" stroke-width="2.3"/>
<text x="146.5" y="691.3" font-size="9.8" text-anchor="middle" fill="#333" font-weight="bold">3</text>
<ellipse cx="164.8" cy="688.8" rx="8.5" ry="12.8" fill="#fbfbfc" stroke="#555" stroke-width="2.3"/>
<text x="164.8" y="691.3" font-size="9.8" text-anchor="middle" fill="#333" font-weight="bold">4</text>
<ellipse cx="182.7" cy="688.8" rx="8.5" ry="12.8" fill="#fbfbfc" stroke="#555" stroke-width="2.3"/>
<text x="182.7" y="691.3" font-size="9.8" text-anchor="middle" fill="#333" font-weight="bold">5</text>
<ellipse cx="200.8" cy="688.8" rx="8.0" ry="12.7" fill="#171717" stroke="#505050" stroke-width="2.9"/>
<text x="200.8" y="691.3" font-size="9.8" text-anchor="middle" fill="#f4f4f4" font-weight="bold">6</text>
<ellipse cx="219.5" cy="688.8" rx="8.0" ry="12.7" fill="#171717" stroke="#505050" stroke-width="2.9"/>
<text x="219.5" y="691.3" font-size="9.8" text-anchor="middle" fill="#f4f4f4" font-weight="bold">7</text>
<ellipse cx="237.9" cy="688.8" rx="8.5" ry="12.8" fill="#fbfbfc" stroke="#555" stroke-width="2.3"/>
<text x="237.9" y="691.3" font-size="9.8" text-anchor="middle" fill="#333" font-weight="bold">8</text>
<ellipse cx="256.4" cy="688.8" rx="8.5" ry="12.8" fill="#fbfbfc" stroke="#555" stroke-width="2.3"/>
<text x="256.4" y="691.3" font-size="9.8" text-anchor="middle" fill="#333" font-weight="bold">9</text>
<ellipse cx="274.5" cy="688.8" rx="8.5" ry="12.8" fill="#fbfbfc" stroke="#555" stroke-width="2.3"/>
<text x="274.5" y="691.3" font-size="9.8" text-anchor="middle" fill="#333" font-weight="bold" textLength="9.6" lengthAdjust="spacingAndGlyphs">10</text>
<ellipse cx="292.9" cy="688.8" rx="8.5" ry="12.8" fill="#fbfbfc" stroke="#555" stroke-width="2.3"/>
<text x="292.9" y="691.3" font-size="9.8" text-anchor="middle" fill="#333" font-weight="bold" textLength="9.6" lengthAdjust="spacingAndGlyphs">11</text>
<ellipse cx="310.8" cy="688.8" rx="8.5" ry="12.8" fill="#fbfbfc" stroke="#555" stroke-width="2.3"/>
<text x="310.8" y="691.3" font-size="9.8" text-anchor="middle" fill="#333" font-weight="bold" textLength="9.6" lengthAdjust="spacingAndGlyphs">12</text>
<ellipse cx="328.8" cy="688.8" rx="8.5" ry="12.8" fill="#fbfbfc" stroke="#555" stroke-width="2.3"/>
<text x="328.8" y="691.3" font-size="9.8" text-anchor="middle" fill="#333" font-weight="bold" textLength="9.6" lengthAdjust="spacingAndGlyphs">13</text>
<ellipse cx="346.6" cy="688.8" rx="8.5" ry="12.8" fill="#fbfbfc" stroke="#555" stroke-width="2.3"/>
<text x="346.6" y="691.3" font-size="9.8" text-anchor="middle" fill="#333" font-weight="bold" textLength="9.6" lengthAdjust="spacingAndGlyphs">14</text>
<ellipse cx="365" cy="688.8" rx="8.5" ry="12.8" fill="#fbfbfc" stroke="#555" stroke-width="2.3"/>
<text x="365" y="691.3" font-size="9.8" text-anchor="middle" fill="#333" font-weight="bold" textLength="9.6" lengthAdjust="spacingAndGlyphs">15</text>
<ellipse cx="383" cy="688.8" rx="8.5" ry="12.8" fill="#fbfbfc" stroke="#555" stroke-width="2.3"/>
<text x="383" y="691.3" font-size="9.8" text-anchor="middle" fill="#333" font-weight="bold" textLength="9.6" lengthAdjust="spacingAndGlyphs">16</text>
<ellipse cx="401" cy="688.8" rx="8.5" ry="12.8" fill="#fbfbfc" stroke="#555" stroke-width="2.3"/>
<text x="401" y="691.3" font-size="9.8" text-anchor="middle" fill="#333" font-weight="bold" textLength="9.6" lengthAdjust="spacingAndGlyphs">17</text>
<ellipse cx="419.3" cy="688.8" rx="8.5" ry="12.8" fill="#fbfbfc" stroke="#555" stroke-width="2.3"/>
<text x="419.3" y="691.3" font-size="9.8" text-anchor="middle" fill="#333" font-weight="bold" textLength="9.6" lengthAdjust="spacingAndGlyphs">18</text>
<ellipse cx="438" cy="688.8" rx="8.0" ry="12.7" fill="#171717" stroke="#505050" stroke-width="2.9"/>
<text x="438" y="691.3" font-size="9.8" text-anchor="middle" fill="#f4f4f4" font-weight="bold" textLength="9.6" lengthAdjust="spacingAndGlyphs">19</text>
<ellipse cx="456.6" cy="688.8" rx="8.0" ry="12.7" fill="#171717" stroke="#505050" stroke-width="2.9"/>
<text x="456.6" y="691.3" font-size="9.8" text-anchor="middle" fill="#f4f4f4" font-weight="bold" textLength="9.6" lengthAdjust="spacingAndGlyphs">20</text>
<ellipse cx="109.7" cy="751.6" rx="8.5" ry="12.8" fill="#fbfbfc" stroke="#555" stroke-width="2.3"/>
<text x="109.7" y="754.1" font-size="9.8" text-anchor="middle" fill="#333" font-weight="bold">1</text>
<ellipse cx="128.1" cy="751.6" rx="8.5" ry="12.8" fill="#fbfbfc" stroke="#555" stroke-width="2.3"/>
<text x="128.1" y="754.1" font-size="9.8" text-anchor="middle" fill="#333" font-weight="bold">2</text>
<ellipse cx="146.5" cy="751.6" rx="8.5" ry="12.8" fill="#fbfbfc" stroke="#555" stroke-width="2.3"/>
<text x="146.5" y="754.1" font-size="9.8" text-anchor="middle" fill="#333" font-weight="bold">3</text>
<ellipse cx="164.8" cy="751.6" rx="8.5" ry="12.8" fill="#fbfbfc" stroke="#555" stroke-width="2.3"/>
<text x="164.8" y="754.1" font-size="9.8" text-anchor="middle" fill="#333" font-weight="bold">4</text>
<ellipse cx="182.7" cy="751.6" rx="8.5" ry="12.8" fill="#fbfbfc" stroke="#555" stroke-width="2.3"/>
<text x="182.7" y="754.1" font-size="9.8" text-anchor="middle" fill="#333" font-weight="bold">5</text>
<ellipse cx="200.8" cy="751.6" rx="8.0" ry="12.7" fill="#171717" stroke="#505050" stroke-width="2.9"/>
<text x="200.8" y="754.1" font-size="9.8" text-anchor="middle" fill="#f4f4f4" font-weight="bold">6</text>
<ellipse cx="219.5" cy="751.6" rx="8.0" ry="12.7" fill="#171717" stroke="#505050" stroke-width="2.9"/>
<text x="219.5" y="754.1" font-size="9.8" text-anchor="middle" fill="#f4f4f4" font-weight="bold">7</text>
<line x1="189.6" y1="706.1" x2="189.6" y2="716.1" stroke="#111" stroke-width="2.2" stroke-linecap="butt"/>
<line x1="229.2" y1="706.1" x2="229.2" y2="716.1" stroke="#111" stroke-width="2.2" stroke-linecap="butt"/>
<line x1="189.6" y1="711.1" x2="229.2" y2="711.1" stroke="#111" stroke-width="2.2" stroke-linecap="butt"/>
<text x="186.7" y="728.7" font-size="14" text-anchor="start" fill="#1a1a1a" font-weight="normal" stroke="#1a1a1a" stroke-width="0.3" textLength="45" lengthAdjust="spacingAndGlyphs">AfEno1</text>
<line x1="428.8" y1="706.1" x2="428.8" y2="716.1" stroke="#111" stroke-width="2.2" stroke-linecap="butt"/>
<line x1="468.1" y1="706.1" x2="468.1" y2="716.1" stroke="#111" stroke-width="2.2" stroke-linecap="butt"/>
<line x1="428.8" y1="711.1" x2="468.1" y2="711.1" stroke="#111" stroke-width="2.2" stroke-linecap="butt"/>
<text x="427.6" y="728.5" font-size="14" text-anchor="start" fill="#1a1a1a" font-weight="normal" stroke="#1a1a1a" stroke-width="0.3" textLength="45.3" lengthAdjust="spacingAndGlyphs">AfEno1</text>
<line x1="192.4" y1="768.7" x2="192.4" y2="778.7" stroke="#111" stroke-width="2.2" stroke-linecap="butt"/>
<line x1="232.5" y1="768.7" x2="232.5" y2="778.7" stroke="#111" stroke-width="2.2" stroke-linecap="butt"/>
<line x1="192.4" y1="773.7" x2="232.5" y2="773.7" stroke="#111" stroke-width="2.2" stroke-linecap="butt"/>
<text x="189.2" y="794" font-size="14" text-anchor="start" fill="#1a1a1a" font-weight="normal" stroke="#1a1a1a" stroke-width="0.3" textLength="45.5" lengthAdjust="spacingAndGlyphs">AfEno1</text>
</svg>
</body>
</html>
